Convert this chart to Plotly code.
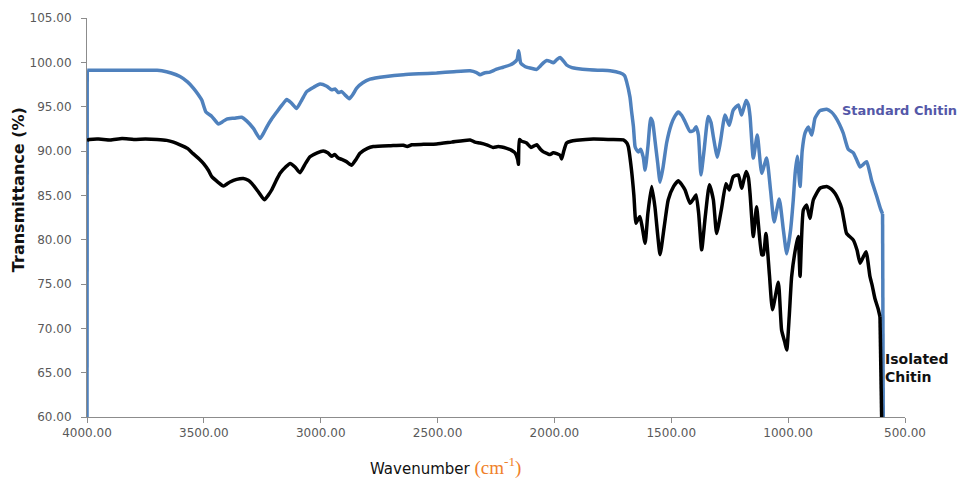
import plotly.graph_objects as go

# FTIR spectra: wavenumber (cm-1) vs transmittance (%)
std_wn = [4000, 3999, 3900, 3800, 3700, 3680, 3640, 3602, 3570, 3545, 3525, 3509, 3491, 3466,
          3438, 3420, 3402, 3370, 3338, 3317, 3288, 3260, 3245, 3231, 3210, 3188, 3165, 3145,
          3125, 3103, 3080, 3060, 3030, 3003, 2974, 2953, 2939, 2925, 2910, 2895, 2878, 2862,
          2846, 2820, 2789, 2720, 2646, 2580, 2504, 2430, 2361, 2333, 2318, 2300, 2276, 2250,
          2219, 2190, 2176, 2160, 2153, 2144, 2130, 2119, 2095, 2076, 2060, 2045, 2033, 2018,
          2005, 1990, 1976, 1960, 1948, 1925, 1905, 1850, 1800, 1762, 1719, 1700, 1691, 1677,
          1670, 1662, 1655, 1648, 1641, 1631, 1620, 1612, 1600, 1588, 1580, 1570, 1558, 1548,
          1535, 1520, 1500, 1485, 1470, 1455, 1441, 1420, 1405, 1394, 1384, 1373, 1360, 1342,
          1330, 1320, 1303, 1290, 1270, 1252, 1235, 1213, 1199, 1180, 1170, 1163, 1149, 1132,
          1113, 1092, 1075, 1060, 1038, 1020, 1006, 990, 978, 970, 961, 949, 940, 928, 914,
          899, 885, 864, 835, 815, 799, 780, 764, 743, 721, 705, 692, 678, 664, 650, 643, 621,
          605, 596, 593]
std_t = [60.0, 99.1, 99.1, 99.1, 99.1, 99.05, 98.8, 98.4, 97.8, 97.1, 96.4, 95.75, 94.4, 93.9,
         93.05, 93.3, 93.6, 93.7, 93.8, 93.4, 92.55, 91.4, 92.0, 92.7, 93.6, 94.4, 95.2, 95.8,
         95.4, 94.8, 95.8, 96.7, 97.2, 97.55, 97.3, 96.9, 97.0, 96.6, 96.7, 96.3, 95.9, 96.4,
         97.1, 97.7, 98.1, 98.4, 98.6, 98.7, 98.8, 98.95, 99.05, 98.85, 98.6, 98.8, 98.9, 99.2,
         99.45, 99.7, 99.9, 100.3, 101.3, 99.9, 99.6, 99.45, 99.3, 99.2, 99.6, 100.0, 100.2, 100.1,
         99.95, 100.3, 100.55, 100.1, 99.7, 99.4, 99.3, 99.15, 99.1, 99.05, 98.8, 98.5, 97.8, 96.1,
         94.5, 92.75, 90.5, 90.1, 89.9, 90.2, 89.3, 87.85, 90.5, 93.7, 93.3, 91.25, 88.6, 86.5,
         88.2, 90.9, 93.0, 93.9, 94.4, 94.0, 93.3, 92.2, 92.3, 92.75, 91.8, 87.3, 90.0, 93.9,
         93.2, 91.6, 89.3, 91.0, 94.05, 92.9, 94.6, 95.2, 94.05, 95.7, 95.2, 93.9, 89.2, 91.8,
         87.5, 89.2, 85.5, 82.0, 84.6, 81.0, 78.4, 81.0, 84.5, 87.5, 89.4, 86.0, 90.0, 92.0, 92.7,
         91.8, 93.7, 94.55, 94.7, 94.4, 93.9, 93.0, 92.0, 90.2, 89.8, 88.9, 88.2, 88.5, 88.8, 87.5,
         86.7, 84.9, 83.5, 82.9, 60.0]

iso_wn = [4000, 3990, 3950, 3900, 3850, 3800, 3750, 3700, 3659, 3630, 3602, 3570, 3546, 3520,
          3502, 3480, 3466, 3440, 3416, 3400, 3388, 3360, 3331, 3310, 3295, 3267, 3241, 3225,
          3210, 3190, 3174, 3150, 3131, 3110, 3089, 3065, 3046, 3015, 2989, 2970, 2953, 2940,
          2925, 2910, 2890, 2868, 2850, 2832, 2800, 2775, 2700, 2646, 2630, 2610, 2560, 2504,
          2440, 2361, 2340, 2318, 2290, 2262, 2240, 2204, 2185, 2169, 2157, 2154, 2150, 2140,
          2119, 2100, 2076, 2060, 2047, 2030, 2019, 2005, 1990, 1975, 1969, 1960, 1948, 1930,
          1905, 1834, 1760, 1705, 1690, 1684, 1670, 1660, 1651, 1642, 1634, 1625, 1612, 1600,
          1584, 1570, 1558, 1548, 1530, 1513, 1490, 1470, 1455, 1441, 1420, 1405, 1394, 1383,
          1370, 1355, 1337, 1320, 1306, 1285, 1266, 1252, 1235, 1213, 1199, 1180, 1170, 1163,
          1149, 1135, 1113, 1106, 1095, 1080, 1067, 1042, 1028, 1015, 1006, 995, 985, 967, 957,
          949, 935, 921, 907, 892, 864, 835, 815, 799, 785, 771, 760, 750, 721, 705, 692, 667,
          650, 640, 629, 615, 607, 600]
iso_t = [91.2, 91.3, 91.35, 91.25, 91.4, 91.3, 91.35, 91.3, 91.2, 91.0, 90.7, 90.3, 89.7, 89.1,
         88.6, 87.8, 87.1, 86.5, 86.05, 86.3, 86.5, 86.8, 86.9, 86.7, 86.35, 85.4, 84.5, 85.0,
         85.6, 86.7, 87.5, 88.2, 88.6, 88.2, 87.55, 88.6, 89.35, 89.8, 90.0, 89.8, 89.4, 89.6,
         89.2, 89.05, 88.8, 88.4, 89.0, 89.75, 90.3, 90.5, 90.6, 90.65, 90.5, 90.7, 90.75, 90.8,
         91.0, 91.25, 91.0, 90.9, 90.7, 90.4, 90.5, 90.3, 90.1, 89.8, 89.0, 88.5, 91.3, 91.1,
         90.9, 90.4, 90.7, 90.2, 89.9, 89.7, 89.6, 89.8, 89.7, 89.5, 89.1, 90.0, 90.9, 91.1,
         91.2, 91.35, 91.3, 91.25, 90.9, 90.5, 87.8, 85.0, 81.85, 82.3, 82.6, 81.5, 79.6, 83.0,
         86.0, 83.7, 80.5, 78.3, 81.5, 84.5, 86.0, 86.65, 86.2, 85.6, 84.1, 84.6, 85.05, 83.0,
         78.85, 82.5, 86.2, 84.5, 80.7, 83.5, 86.3, 85.6, 87.1, 87.3, 85.8, 87.7, 87.0, 85.2,
         80.35, 83.7, 78.3, 78.3, 80.7, 76.0, 72.1, 75.2, 69.8, 68.5, 67.55, 71.5, 75.85, 79.2, 80.35,
         75.85, 83.35, 83.9, 82.4, 84.5, 85.8, 86.0, 85.7, 85.2, 84.5, 83.55, 82.0, 80.7, 79.95, 78.8,
         77.35, 78.65, 75.85, 74.8, 73.4, 72.2, 71.3, 60.0]

x_ticks = [4000, 3500, 3000, 2500, 2000, 1500, 1000, 500]
y_ticks = [60, 65, 70, 75, 80, 85, 90, 95, 100, 105]

TICK_FONT = dict(family="DejaVu Sans", size=12, color="#595959")
AXIS_GRAY = "#8c8c8c"


def add_spectrum(fig, wn, t, color, first_is_edge):
    """Smoothed spectrum; the steep edge segments are drawn straight."""
    body_x = wn[1:-1] if first_is_edge else wn[:-1]
    body_y = t[1:-1] if first_is_edge else t[:-1]
    fig.add_trace(go.Scatter(x=body_x, y=body_y, mode="lines",
                             line=dict(color=color, width=3.5, shape="spline", smoothing=0.5)))
    if first_is_edge:
        fig.add_trace(go.Scatter(x=wn[:2], y=t[:2], mode="lines",
                                 line=dict(color=color, width=3.5)))
    fig.add_trace(go.Scatter(x=wn[-2:], y=t[-2:], mode="lines",
                             line=dict(color=color, width=3.5)))


fig = go.Figure()
add_spectrum(fig, std_wn, std_t, "#4f81bd", True)
add_spectrum(fig, iso_wn, iso_t, "#000000", False)

fig.update_xaxes(range=[4000, 500], tickvals=x_ticks, tickformat=".2f",
                 showgrid=False, zeroline=False, showline=True, linecolor=AXIS_GRAY,
                 linewidth=1, ticks="outside", ticklen=5, tickcolor=AXIS_GRAY,
                 tickfont=TICK_FONT)
fig.update_yaxes(range=[60, 105], tickvals=y_ticks, tickformat=".2f",
                 showgrid=False, zeroline=False, showline=True, linecolor=AXIS_GRAY,
                 linewidth=1, ticks="outside", ticklen=5, tickcolor=AXIS_GRAY,
                 tickfont=TICK_FONT, ticklabelstandoff=7)

fig.add_annotation(text="Transmittance (%)", xref="paper", yref="paper",
                   x=-0.0844, y=0.571, xanchor="center", yanchor="middle",
                   textangle=-90, showarrow=False,
                   font=dict(family="DejaVu Sans", size=16, color="#111111", weight="bold"))
fig.add_annotation(text="Wavenumber <span style=\"font-family:'Liberation Serif';color:#f0802a;font-size:19px\">(cm<sup>-1</sup>)</span>",
                   xref="paper", yref="paper", x=0.4377, y=-0.125,
                   xanchor="center", yanchor="middle", showarrow=False,
                   font=dict(family="DejaVu Sans", size=15, color="#111111"))
fig.add_annotation(text="Standard Chitin", xref="paper", yref="paper",
                   x=0.9205, y=0.767, xanchor="left", yanchor="middle", showarrow=False,
                   font=dict(family="DejaVu Sans", size=13, color="#5458a8", weight="bold"))
fig.add_annotation(text="Isolated<br>Chitin", xref="paper", yref="paper",
                   x=0.973, y=0.123, xanchor="left", yanchor="middle", align="left",
                   showarrow=False,
                   font=dict(family="DejaVu Sans", size=14, color="#111111", weight="bold"))

fig.update_layout(width=962, height=478, showlegend=False,
                  margin=dict(l=87, r=57, t=18, b=61),
                  paper_bgcolor="white", plot_bgcolor="white")

fig.write_html("out.html")
